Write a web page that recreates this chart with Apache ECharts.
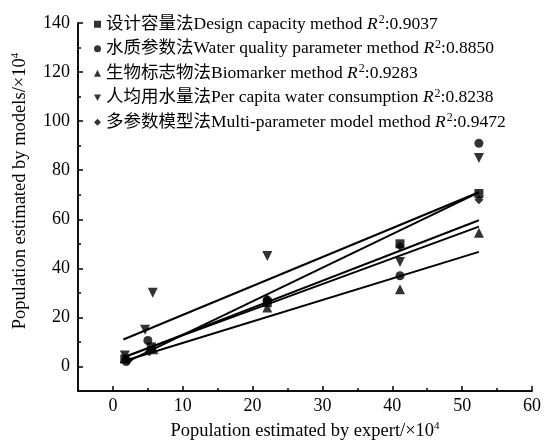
<!DOCTYPE html>
<html>
<head>
<meta charset="utf-8">
<script src="https://cdn.jsdelivr.net/npm/echarts@6/dist/echarts.min.js"></script>
<style>
  html, body { margin: 0; padding: 0; background: #fff; }
  #main { width: 544px; height: 446px; }
</style>
</head>
<body>
<div id="main"></div>
<script>
var chartDom = document.getElementById("main");
var myChart = echarts.init(chartDom);
var option;

var FONT = "'Liberation Serif', 'Noto Sans CJK SC', serif";

// legend texts
const cnNames = ["设计容量法", "水质参数法", "生物标志物法", "人均用水量法", "多参数模型法"];
const enNames = ["Design capacity method", "Water quality parameter method", "Biomarker method",
  "Per capita water consumption", "Multi-parameter model method"];
const r2Values = ["0.9037", "0.8850", "0.9283", "0.8238", "0.9472"];

// points [expert, model] (x10^4)
const designPts = [[1.7, 3], [5.5, 8], [22.1, 26], [41.1, 50], [52.4, 70.5]];
const waterPts = [[1.9, 2], [5.0, 10.6], [22.1, 27], [41.1, 37], [52.4, 91]];
const bioPts = [[1.7, 3.5], [5.8, 7], [22.1, 24], [41.1, 31.5], [52.4, 54.5]];
const capitaPts = [[1.7, 4.5], [4.6, 15], [5.7, 30], [22.1, 45], [41.1, 42.6], [52.4, 85]];
const multiPts = [[2.2, 2.5], [5.2, 6], [22.1, 27.5], [41.1, 49], [52.4, 68]];

// fitted lines, end points
const designFit = [[1.7, 3.8], [52.4, 59.6]];
const waterFit = [[1.7, 1.5], [52.4, 71]];
const bioFit = [[1.7, 2.3], [52.4, 46.7]];
const capitaFit = [[1.5, 11], [52.4, 71]];
const multiFit = [[1.7, 4], [52.4, 57]];

// ticks
const xMajor = [0, 10, 20, 30, 40, 50, 60];
const xMinor = [5, 15, 25, 35, 45, 55];
const yMajor = [0, 20, 40, 60, 80, 100, 120, 140];
const yMinor = [10, 30, 50, 70, 90, 110, 130];

const symbols = ["rect", "circle", "triangle", "path://M0,0L10,0L5,9Z", "diamond"];
const pointSets = [designPts, waterPts, bioPts, capitaPts, multiPts];
const fitSets = [designFit, waterFit, bioFit, capitaFit, multiFit];

var series = [];
for (var i = 0; i < cnNames.length; i++) {
  series.push({
    name: cnNames[i],
    type: "scatter",
    data: pointSets[i],
    symbol: symbols[i],
    symbolSize: i === 2 || i === 3 ? 10 : 9,
    itemStyle: { color: "#000" },
    z: 3
  });
}
for (var j = 0; j < fitSets.length; j++) {
  series.push({
    type: "line",
    data: fitSets[j],
    symbol: "none",
    silent: true,
    lineStyle: { color: "#000", width: 2 },
    z: 2
  });
}

function baseAxis(extra) {
  return Object.assign({
    type: "value",
    splitLine: { show: false },
    axisLine: { onZero: false, lineStyle: { color: "#000", width: 1.5 } }
  }, extra);
}

option = {
  backgroundColor: "#fff",
  animation: false,
  grid: { left: 78, right: 11, top: 23, bottom: 55 },
  legend: {
    orient: "vertical",
    left: 89,
    top: 9,
    itemWidth: 7,
    itemHeight: 7,
    itemGap: 4,
    selectedMode: false,
    data: cnNames,
    formatter: function (name) {
      var k = cnNames.indexOf(name);
      return name + enNames[k] + " {i|R}{s|2}:" + r2Values[k];
    },
    textStyle: {
      fontFamily: FONT,
      fontSize: 17.5,
      color: "#000",
      lineHeight: 20.5,
      rich: {
        i: { fontFamily: FONT, fontSize: 17.5, fontStyle: "italic", color: "#000", lineHeight: 20.5 },
        s: { fontFamily: FONT, fontSize: 12, color: "#000", verticalAlign: "top", lineHeight: 20.5, padding: [0, 0, 0, 1] }
      }
    }
  },
  xAxis: [
    baseAxis({
      min: -5, max: 60, position: "bottom",
      name: "Population estimated by expert/×10{s|4}",
      nameLocation: "middle",
      nameGap: 30,
      nameTextStyle: {
        fontFamily: FONT, fontSize: 18.5, color: "#000",
        rich: { s: { fontFamily: FONT, fontSize: 11, color: "#000", padding: [0, 0, 9, 0] } }
      },
      axisTick: { inside: true, length: 5, customValues: xMajor, lineStyle: { color: "#000", width: 1.5 } },
      axisLabel: { customValues: xMajor, color: "#000", fontFamily: FONT, fontSize: 18, margin: 6 }
    }),
    baseAxis({
      min: -5, max: 60, position: "bottom",
      axisTick: { inside: true, length: 3, customValues: xMinor, lineStyle: { color: "#000", width: 1.5 } },
      axisLabel: { show: false }
    })
  ],
  yAxis: [
    baseAxis({
      min: -10, max: 140, position: "left",
      name: "Population estimated by models/×10{s|4}",
      nameLocation: "middle",
      nameGap: 48,
      nameTextStyle: {
        fontFamily: FONT, fontSize: 18.5, color: "#000",
        padding: [0, 0, 0, 32],
        rich: { s: { fontFamily: FONT, fontSize: 11, color: "#000", padding: [0, 0, 9, 0] } }
      },
      axisTick: { inside: true, length: 5, customValues: yMajor, lineStyle: { color: "#000", width: 1.5 } },
      axisLabel: { customValues: yMajor, color: "#000", fontFamily: FONT, fontSize: 18, margin: 8 }
    }),
    baseAxis({
      min: -10, max: 140, position: "left",
      axisTick: { inside: true, length: 3, customValues: yMinor, lineStyle: { color: "#000", width: 1.5 } },
      axisLabel: { show: false }
    })
  ],
  series: series
};

option && myChart.setOption(option);
</script>
</body>
</html>
